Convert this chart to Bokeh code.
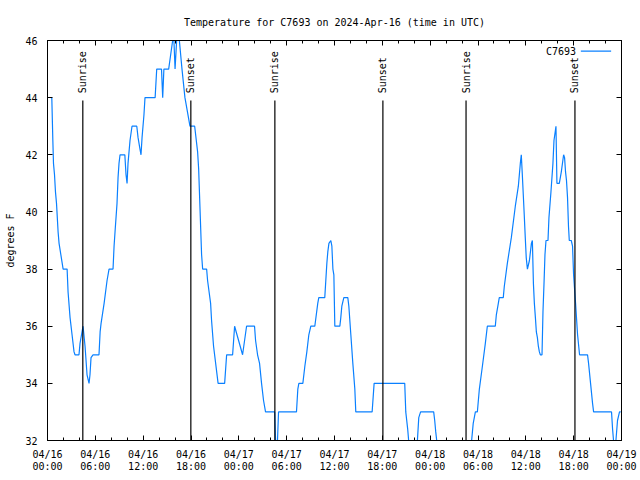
import math
from bokeh.plotting import figure
from bokeh.models import Range1d, FixedTicker, LinearAxis, Label, Arrow
from bokeh.core.properties import value
from bokeh.embed import file_html
from bokeh.resources import INLINE

# ---- data (hours since 2024-04-16 00:00 UTC, temperature in degrees F) ----
hours = [
    0.41, 0.54, 0.67, 0.75, 0.88, 1.0, 1.13, 1.25, 1.33, 1.45,
    1.96, 2.46, 2.58, 2.83, 3.08, 3.33, 3.45, 3.95, 4.08, 4.33,
    4.46, 4.71, 4.96, 5.21, 5.33, 5.46, 5.71, 6.46, 6.6, 6.72,
    7.1, 7.47, 7.72, 8.22, 8.35, 8.47, 8.72, 8.85, 8.97, 9.1,
    9.7, 9.85, 9.98, 10.1, 10.35, 10.6, 11.2, 11.36, 11.6, 11.73,
    11.86, 12.1, 12.23, 13.5, 13.7, 14.3, 14.45, 14.6, 15.2, 15.45,
    15.7, 15.86, 16.0, 16.2, 16.54, 16.87, 17.24, 17.87, 18.46, 18.83,
    18.96, 19.33, 19.46, 19.96, 20.08, 20.46, 20.58, 20.83, 21.4, 22.22,
    22.47, 23.22, 23.47, 24.47, 24.97, 25.97, 26.1, 26.35, 26.6, 26.85,
    27.1, 27.35, 28.5, 28.72, 28.98, 31.23, 31.4, 31.53, 32.03, 32.28,
    32.53, 32.78, 33.03, 33.53, 33.9, 34.03, 34.78, 34.91, 35.04, 35.16,
    35.3, 35.54, 35.67, 35.8, 35.92, 36.04, 36.67, 36.79, 36.92, 37.17,
    37.67, 37.8, 38.05, 38.3, 38.55, 38.67, 40.72, 40.97, 44.81, 44.94,
    45.06, 45.18, 45.3, 45.8, 46.1, 46.4, 46.57, 46.8, 48.44, 48.57,
    48.7, 48.82, 49.3, 52.7, 53.2, 53.4, 53.67, 53.92, 54.17, 54.55,
    54.92, 55.17, 56.17, 56.3, 56.55, 56.67, 57.17, 57.3, 57.68, 58.18,
    58.68, 59.06, 59.31, 59.43, 59.56, 59.68, 59.8, 59.93, 60.05, 60.2,
    60.45, 60.7, 60.82, 60.95, 61.07, 61.2, 61.32, 61.45, 61.57, 61.7,
    61.82, 62.03, 62.15, 62.28, 62.4, 62.53, 62.78, 62.9, 63.15, 63.4,
    63.53, 63.78, 63.9, 64.2, 64.45, 64.74, 64.86, 64.98, 65.1, 65.23,
    65.35, 65.45, 65.7, 65.86, 65.99, 66.24, 66.49, 66.74, 67.74, 67.87,
    68.12, 68.37, 68.5, 70.75, 70.88, 71.0, 71.15, 71.3, 71.5, 71.75,
    71.9,
]
temps = [
    44, 44, 42.5, 41.7, 41.3, 40.7, 40.3, 39.7, 39.3, 38.9,
    38, 38, 37.2, 36.3, 35.7, 35.1, 35, 35, 35.4, 35.8,
    36, 35.3, 34.3, 34, 34.3, 34.9, 35, 35, 35.8, 36.1,
    36.8, 37.6, 38, 38, 38.8, 39.3, 40.3, 41.2, 41.7, 42,
    42, 41.3, 41, 41.7, 42.5, 43, 43, 42.6, 42.2, 42,
    42.6, 43.4, 44, 44, 45, 45, 44, 45, 45, 45.5,
    46, 46, 45, 46, 46, 45, 44, 43, 43, 42.1,
    41.5, 38.5, 38, 38, 37.6, 36.8, 36.2, 35.3, 34, 34,
    35, 35, 36, 35, 36, 36, 35.5, 35, 34.7, 34,
    33.4, 33, 33, 31, 33, 33, 33.8, 34, 34, 34.6,
    35.1, 35.7, 36, 36, 36.8, 37, 37, 37.6, 38.2, 38.6,
    38.9, 39, 38.8, 38, 37.8, 36, 36, 36.3, 36.7, 37,
    37, 36.7, 35.7, 34.7, 33.8, 33, 33, 34, 34, 33,
    32.7, 32.4, 32, 31, 31, 32, 32.8, 33, 33, 32.7,
    32.3, 32, 31, 31, 32, 32.6, 33, 33, 33.8, 34.6,
    35.4, 36, 36, 36.4, 36.8, 37, 37, 37.4, 38.2, 39.1,
    40.2, 40.9, 41.7, 42, 41.3, 40.6, 39.9, 39.1, 38.4, 38,
    38.3, 38.9, 39, 37.5, 36.8, 36.3, 35.8, 35.6, 35.3, 35.1,
    35, 35, 36.5, 37.5, 38.5, 39, 39, 39.8, 40.7, 41.7,
    42.5, 43, 41, 41, 41.4, 42, 41.9, 41.4, 41.1, 40.5,
    39.5, 39, 39, 38.8, 37.8, 36.8, 35.7, 35, 35, 34.7,
    34, 33.3, 33, 33, 32.4, 32, 31.6, 32, 32.7, 33,
    33,
]
sunrise_hours = [4.43, 28.52, 52.50]
sunset_hours = [17.98, 42.07, 66.16]

x_ticks = [0, 6, 12, 18, 24, 30, 36, 42, 48, 54, 60, 66, 72]
x_tick_labels = [
    "04/16\n00:00", "04/16\n06:00", "04/16\n12:00", "04/16\n18:00",
    "04/17\n00:00", "04/17\n06:00", "04/17\n12:00", "04/17\n18:00",
    "04/18\n00:00", "04/18\n06:00", "04/18\n12:00", "04/18\n18:00",
    "04/19\n00:00",
]
x_minor_ticks = list(range(0, 73, 2))
y_ticks = [32, 34, 36, 38, 40, 42, 44, 46]

series_name = "C7693"
title_text = "Temperature for C7693 on 2024-Apr-16 (time in UTC)"
y_label = "degrees F"

FONT = "DejaVu Sans Mono"
FS = "10px"
LINE_COLOR = "#0a80ff"

p = figure(
    width=640, height=480,
    output_backend="svg", toolbar_location=None,
    x_range=Range1d(0, 72), y_range=Range1d(32, 46),
    min_border_left=47, min_border_right=19,
    min_border_top=40, min_border_bottom=40,
    background_fill_color="white", border_fill_color="white",
)
p.outline_line_color = "black"
p.outline_line_width = 1
p.xgrid.visible = False
p.ygrid.visible = False

# title
p.title.text = title_text
p.title.align = "center"
p.title.text_font = FONT
p.title.text_font_size = FS
p.title.text_font_style = "normal"
p.title.text_color = "black"
p.title.standoff = 26

# bottom axis
xa = p.xaxis[0]
xa.ticker = FixedTicker(ticks=x_ticks, minor_ticks=x_minor_ticks)
xa.major_label_overrides = {t: lab for t, lab in zip(x_ticks, x_tick_labels)}
xa.major_tick_in = 5
xa.major_tick_out = 0
xa.minor_tick_in = 3
xa.minor_tick_out = 0
xa.major_label_standoff = 8
xa.major_label_text_font = FONT
xa.major_label_text_font_size = FS
xa.major_label_text_color = "black"
xa.major_label_text_line_height = 1.1
xa.axis_line_color = "black"
xa.major_tick_line_color = "black"
xa.minor_tick_line_color = "black"

# left axis
ya = p.yaxis[0]
ya.ticker = FixedTicker(ticks=y_ticks, minor_ticks=[])
ya.major_tick_in = 5
ya.major_tick_out = 0
ya.minor_tick_in = 0
ya.minor_tick_out = 0
ya.major_label_standoff = 10
ya.major_label_text_font = FONT
ya.major_label_text_font_size = FS
ya.major_label_text_color = "black"
ya.axis_label = y_label
ya.axis_label_text_font = FONT
ya.axis_label_text_font_size = FS
ya.axis_label_text_font_style = "normal"
ya.axis_label_text_color = "black"
ya.axis_label_standoff = 6
ya.axis_line_color = "black"

# mirrored tick axes (top and right) without labels
top = LinearAxis(ticker=FixedTicker(ticks=x_ticks, minor_ticks=x_minor_ticks),
                 major_tick_in=5, major_tick_out=0, minor_tick_in=3, minor_tick_out=0,
                 major_label_text_color=None, major_label_text_font_size="0px",
                 major_label_standoff=0, axis_line_color="black")
right = LinearAxis(ticker=FixedTicker(ticks=y_ticks, minor_ticks=[]),
                   major_tick_in=5, major_tick_out=0, minor_tick_in=0, minor_tick_out=0,
                   major_label_text_color=None, major_label_text_font_size="0px",
                   major_label_standoff=0, axis_line_color="black")
p.add_layout(top, "above")
p.add_layout(right, "right")

# data line
line = p.line(x=hours, y=temps, line_color=LINE_COLOR, line_width=1.2)

# sunrise / sunset markers
n_rise = len(sunrise_hours)
n_set = len(sunset_hours)
p.segment(x0=sunrise_hours, y0=[32] * n_rise, x1=sunrise_hours, y1=[43.9] * n_rise,
          line_color="black", line_width=1.2)
p.segment(x0=sunset_hours, y0=[32] * n_set, x1=sunset_hours, y1=[43.9] * n_set,
          line_color="black", line_width=1.2)
p.text(x=sunrise_hours, y=[44.15] * n_rise, text=["Sunrise"] * n_rise,
       angle=math.pi / 2, text_align="left", text_baseline="middle",
       text_font=value(FONT), text_font_size=FS, text_color="black")
p.text(x=sunset_hours, y=[44.15] * n_set, text=["Sunset"] * n_set,
       angle=math.pi / 2, text_align="left", text_baseline="middle",
       text_font=value(FONT), text_font_size=FS, text_color="black")

# key (gnuplot style: text then line sample)
p.add_layout(Label(x=66.3, y=45.63, text=series_name, text_align="right",
                   text_baseline="middle", text_font=FONT, text_font_size=FS,
                   text_color="black"))
p.add_layout(Arrow(x_start=66.9, y_start=45.63, x_end=70.7, y_end=45.63,
                   start=None, end=None, line_color=LINE_COLOR, line_width=1.2))

open("out.html", "w").write(file_html(p, INLINE))
